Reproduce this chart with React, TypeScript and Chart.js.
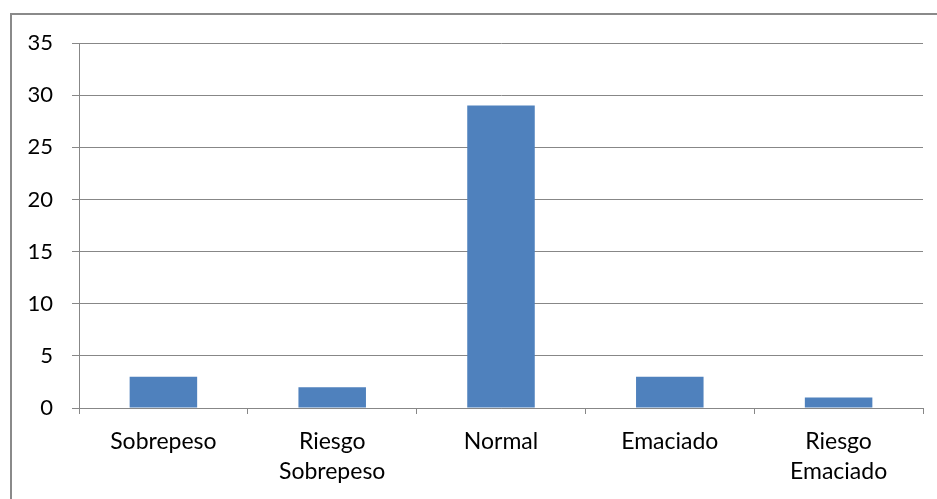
import React, { useEffect, useRef } from "react";
import { Chart, registerables } from "chart.js";

Chart.register(...registerables);

// Nutritional status categories (multi-line labels as arrays)
const categories: string[][] = [
  ["Sobrepeso"],
  ["Riesgo", "Sobrepeso"],
  ["Normal"],
  ["Emaciado"],
  ["Riesgo", "Emaciado"],
];

// Number of children in each category
const counts: number[] = [3, 2, 29, 3, 1];

// Value axis range
const yMin = 0;
const yMax = 35;
const yStep = 5;

const GRID = "#878787";
const BAR = "#4F81BD";
const FONT = "Lato, 'Noto Sans', sans-serif";

// Frame drawn round the whole chart
const framePlugin = {
  id: "frame",
  beforeDraw(chart: Chart) {
    const ctx = chart.ctx;
    ctx.save();
    ctx.strokeStyle = "#8a8a8a";
    ctx.lineWidth = 2;
    ctx.strokeRect(11, 14, chart.width + 20, chart.height + 20);
    ctx.restore();
  },
};

export default function App() {
  const ref = useRef<HTMLCanvasElement | null>(null);

  useEffect(() => {
    if (!ref.current) return;
    const chart = new Chart(ref.current, {
      type: "bar",
      data: {
        labels: categories,
        datasets: [
          {
            data: counts,
            backgroundColor: BAR,
            borderWidth: 0,
            barPercentage: 0.4,
            categoryPercentage: 1,
          },
        ],
      },
      options: {
        responsive: false,
        devicePixelRatio: 1,
        animation: false,
        layout: { padding: { left: 0, top: 43, right: 14, bottom: 0 } },
        plugins: {
          legend: { display: false },
          tooltip: { enabled: false },
        },
        scales: {
          x: {
            afterFit(scale: any) {
              scale.height = 91;
            },
            grid: {
              offset: true,
              drawOnChartArea: false,
              drawTicks: true,
              tickLength: 6,
              color: GRID,
            },
            border: { display: true, color: GRID, width: 1 },
            ticks: {
              color: "#000",
              padding: 13,
              maxRotation: 0,
              autoSkip: false,
              font: { family: FONT, size: 23, lineHeight: 1.3 },
            },
          },
          y: {
            min: yMin,
            max: yMax,
            afterFit(scale: any) {
              scale.width = 79;
            },
            grid: {
              color: GRID,
              drawTicks: true,
              tickLength: 7,
            },
            border: { display: true, color: GRID, width: 1 },
            ticks: {
              stepSize: yStep,
              color: "#000",
              padding: 19,
              font: { family: FONT, size: 22 },
            },
          },
        },
      },
      plugins: [framePlugin],
    });
    return () => chart.destroy();
  }, []);

  return (
    <canvas
      ref={ref}
      width={937}
      height={499}
      style={{ position: "absolute", left: 0, top: 0, width: 937, height: 499 }}
    />
  );
}
